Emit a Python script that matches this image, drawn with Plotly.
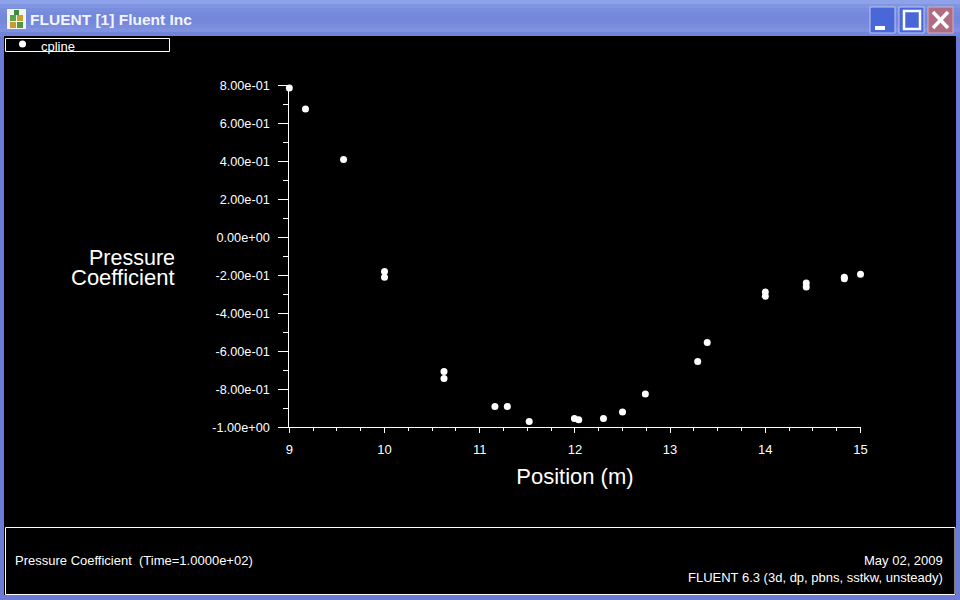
import plotly.graph_objects as go

position = [9.0, 9.17, 9.57, 10.0, 10.0, 10.625, 10.625, 11.16, 11.29, 11.52, 11.995, 12.04,
            12.3, 12.5, 12.74, 13.29, 13.39, 14.0, 14.0, 14.43, 14.43, 14.83, 14.83, 15.0]
pressure_coefficient = [0.786, 0.675, 0.41, -0.18, -0.21, -0.706, -0.743, -0.89, -0.89, -0.97, -0.954, -0.96,
                        -0.954, -0.92, -0.825, -0.654, -0.554, -0.288, -0.31, -0.24, -0.262, -0.21, -0.218, -0.195]
y_ticks = [0.8, 0.6, 0.4, 0.2, 0.0, -0.2, -0.4, -0.6, -0.8, -1.0]
y_labels = ["8.00e-01", "6.00e-01", "4.00e-01", "2.00e-01", "0.00e+00",
            "-2.00e-01", "-4.00e-01", "-6.00e-01", "-8.00e-01", "-1.00e+00"]
x_ticks = [9, 10, 11, 12, 13, 14, 15]

W, H = 960, 600
FONT = "Liberation Sans"
FRAME = "#6b7bd6"


def px(x):
    return x / W


def py(y):
    return 1 - y / H


def rect(x0, y0, x1, y1, fill="rgba(0,0,0,0)", line=None, width=1):
    return dict(type="rect", xref="paper", yref="paper", layer="below",
                x0=px(x0), x1=px(x1), y0=py(y0), y1=py(y1), fillcolor=fill,
                line=dict(color=line or "rgba(0,0,0,0)", width=width if line else 0))


def seg(x0, y0, x1, y1, color="white", width=2):
    return dict(type="line", xref="paper", yref="paper", layer="above",
                x0=px(x0), x1=px(x1), y0=py(y0), y1=py(y1), line=dict(color=color, width=width))


def text(x, y, s, size=13, anchor="left", color="white", weight="normal"):
    return dict(xref="paper", yref="paper", x=px(x), y=py(y), text=s, showarrow=False,
                xanchor=anchor, yanchor="middle", align=anchor,
                font=dict(family=FONT, size=size, color=color, weight=weight))


shapes = []
# title bar gradient
bands = ["#8ea2ea", "#8195e2", "#7a8ede", "#7689dc", "#7587db", "#7688dc", "#7a8cdd", "#7f91df", "#7385d9"]
for i, c in enumerate(bands):
    shapes.append(rect(0, i * 4, W, (i + 1) * 4 + 1, fill=c))
# client area and panels
shapes.append(rect(4, 36, 956, 595, fill="black"))
shapes.append(rect(5.5, 38.5, 169.5, 51.5, line="white"))
shapes.append(rect(5.5, 527.5, 955, 594.5, line="white"))
# legend key
shapes.append(dict(type="circle", xref="paper", yref="paper", layer="above",
                   x0=px(19), x1=px(26), y0=py(47.5), y1=py(40.5), fillcolor="white", line=dict(width=0)))
# app icon
shapes.append(rect(7, 9, 26, 29, fill="#f4f4f0"))
for x0, y0, x1, y1, c in [(14, 10, 19, 15, "#3f8a3a"), (10, 15, 16, 21, "#5aa34a"),
                          (17, 15, 23, 21, "#c8a030"), (10, 22, 16, 28, "#c89a30"), (17, 22, 23, 28, "#4f9a40")]:
    shapes.append(rect(x0, y0, x1, y1, fill=c))
# window buttons
shapes.append(dict(rect(870, 7, 895, 33, fill="#4a67d8", line="#b9c6f2"), layer="above"))
shapes.append(dict(rect(875, 26, 885, 30, fill="white"), layer="above"))
shapes.append(dict(rect(899, 7, 924, 33, fill="#4a67d8", line="#b9c6f2"), layer="above"))
shapes.append(dict(rect(904, 11, 920, 29, line="white", width=2.5), layer="above"))
shapes.append(dict(rect(928, 7, 953, 33, fill="#b06c80", line="#c9b0c8"), layer="above"))
shapes.append(seg(933, 12, 948, 28, width=3.5))
shapes.append(seg(948, 12, 933, 28, width=3.5))

annotations = [
    text(28, 20, "FLUENT [1] Fluent Inc", size=15.5, color="#f2f5ff", weight="bold"),
    text(39, 46, "cpline", size=13),
    text(177, 257.5, "Pressure", size=21.5, anchor="right"),
    text(177, 277.5, "Coefficient", size=22, anchor="right"),
    text(13, 560.5, "Pressure Coefficient  (Time=1.0000e+02)", size=13),
    text(945, 560.5, "May 02, 2009", size=13, anchor="right"),
    text(945, 577, "FLUENT 6.3 (3d, dp, pbns, sstkw, unsteady)", size=13, anchor="right"),
]

fig = go.Figure(go.Scatter(x=position, y=pressure_coefficient, mode="markers", name="cpline",
                           marker=dict(color="white", size=7, symbol="circle"), cliponaxis=False))

fig.update_layout(
    width=W, height=H, autosize=False,
    margin=dict(l=0, r=0, t=0, b=0, pad=0),
    paper_bgcolor=FRAME, plot_bgcolor="rgba(0,0,0,0)",
    showlegend=False,
    font=dict(family=FONT, size=13, color="white"),
    shapes=shapes, annotations=annotations,
    xaxis=dict(domain=[289.3 / W, 860.5 / W], range=[9, 15], tickmode="array", tickvals=x_ticks,
               ticktext=[str(v) for v in x_ticks], ticks="outside", ticklen=5, tickcolor="white", tickwidth=1,
               showline=True, linecolor="white", linewidth=1, showgrid=False, zeroline=False, automargin=False,
               ticklabelstandoff=5,
               minor=dict(dtick=0.25, ticks="outside", ticklen=3, tickcolor="white", tickwidth=1, showgrid=False),
               title=dict(text="Position (m)", font=dict(size=22, color="white"), standoff=12)),
    yaxis=dict(domain=[1 - 427.3 / H, 1 - 85.3 / H], range=[-1, 0.8], tickmode="array", tickvals=y_ticks,
               ticktext=y_labels, ticks="outside", ticklen=10, tickcolor="white", tickwidth=1,
               tickfont=dict(size=12.7),
               showline=True, linecolor="white", linewidth=1, showgrid=False, zeroline=False, automargin=False,
               ticklabelstandoff=6,
               minor=dict(dtick=0.1, ticks="outside", ticklen=5, tickcolor="white", tickwidth=1, showgrid=False)),
)

fig.write_html("out.html", config={"displayModeBar": False},
               post_script="document.body.style.margin='0';document.body.style.overflow='hidden';")
